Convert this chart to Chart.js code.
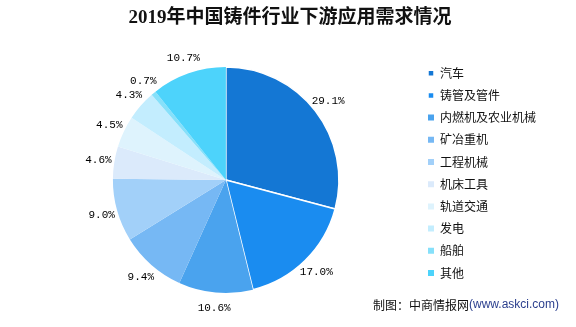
<!DOCTYPE html>
<html>
<head>
<meta charset="utf-8">
<script src="https://cdn.jsdelivr.net/npm/chart.js@4"></script>
<style>
  html, body { margin: 0; padding: 0; background: #fff; }
  #wrap { width: 576px; height: 327px; }
</style>
</head>
<body>
<div id="wrap"><canvas id="myChart" width="576" height="327"></canvas></div>
<script>
// data
const categories = ['汽车', '铸管及管件', '内燃机及农业机械', '矿冶重机', '工程机械', '机床工具', '轨道交通', '发电', '船舶', '其他'];
const shares = [29.1, 17.0, 10.6, 9.4, 9.0, 4.6, 4.5, 4.3, 0.7, 10.7];
const sliceColors = ['#1477d4', '#1a8cf0', '#4aa3ee', '#76b8f4', '#a2d0f9', '#dbeafb', '#def3fd', '#c3edfe', '#86e0fa', '#4dd3fb'];

// percent labels outside each slice
const outsideLabels = {
  id: 'outsideLabels',
  afterDatasetsDraw(chart) {
    const ctx = chart.ctx;
    const meta = chart.getDatasetMeta(0);
    ctx.save();
    ctx.font = '11px "Liberation Mono", monospace';
    ctx.fillStyle = '#000';
    ctx.textAlign = 'center';
    ctx.textBaseline = 'middle';
    meta.data.forEach((arc, i) => {
      const p = arc.getProps(['x', 'y', 'startAngle', 'endAngle', 'outerRadius'], true);
      const mid = (p.startAngle + p.endAngle) / 2;
      const r = p.outerRadius + 16;
      ctx.fillText(shares[i].toFixed(1) + '%', p.x + Math.cos(mid) * r, p.y + Math.sin(mid) * r);
    });
    ctx.restore();
  }
};

// source line, bottom right
const sourceNote = {
  id: 'sourceNote',
  afterDraw(chart) {
    const ctx = chart.ctx;
    ctx.save();
    ctx.textBaseline = 'middle';
    ctx.textAlign = 'left';
    ctx.font = '12px "Noto Sans CJK SC", sans-serif';
    ctx.fillStyle = '#111';
    const a = '制图：中商情报网';
    ctx.fillText(a, 373, 305);
    const w = ctx.measureText(a).width;
    ctx.font = '12px "Liberation Sans", Arial, sans-serif';
    ctx.fillStyle = '#2b3f8e';
    ctx.fillText('(www.askci.com)', 373 + w, 305);
    ctx.restore();
  }
};

new Chart(document.getElementById('myChart'), {
  type: 'pie',
  data: {
    labels: categories,
    datasets: [{
      data: shares,
      backgroundColor: sliceColors,
      borderColor: '#ffffff',
      borderWidth: [1.5, 1.5, 0, 0, 0, 0, 0, 0, 0, 0]
    }]
  },
  options: {
    responsive: false,
    animation: false,
    radius: 113,
    layout: { padding: { left: 34, right: 30, top: 0, bottom: 24 } },
    plugins: {
      title: {
        display: true,
        text: '2019年中国铸件行业下游应用需求情况',
        color: '#111',
        font: { size: 19, weight: 'bold', family: '"Liberation Serif", "Noto Sans CJK SC", serif' },
        padding: { top: 6.6, bottom: 27.6 }
      },
      legend: {
        position: 'right',
        align: 'start',
        fullSize: false,
        labels: {
          boxWidth: 6,
          boxHeight: 6,
          padding: 10.2,
          color: '#111',
          font: { size: 12, family: '"Noto Sans CJK SC", sans-serif' }
        }
      },
      tooltip: { enabled: false }
    }
  },
  plugins: [outsideLabels, sourceNote]
});
</script>
</body>
</html>
